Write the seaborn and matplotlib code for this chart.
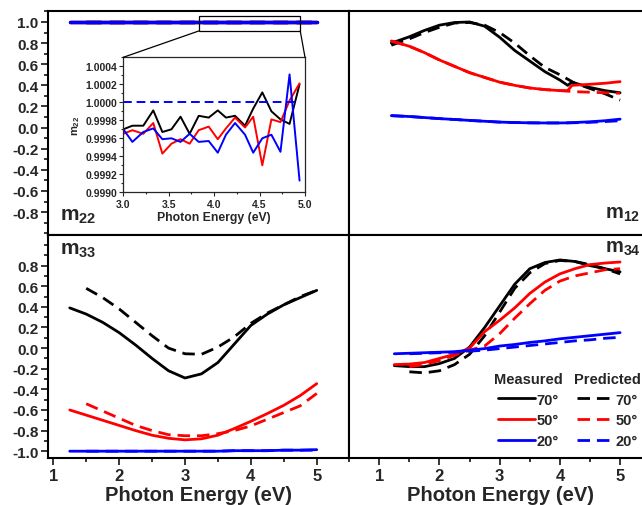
import matplotlib
matplotlib.use("Agg")
import matplotlib.pyplot as plt
import seaborn as sns
import numpy as np
from matplotlib.lines import Line2D
from matplotlib.patches import Rectangle, ConnectionPatch
from matplotlib.ticker import MultipleLocator, FormatStrFormatter, FixedLocator

# ---------------- data ----------------
E_meas = [1.25, 1.5, 1.75, 2.0, 2.25, 2.5, 2.75, 3.0, 3.25, 3.5, 3.75, 4.0, 4.25, 4.5, 4.75, 5.0]
E_pred = [1.5, 1.75, 2.0, 2.25, 2.5, 2.75, 3.0, 3.25, 3.5, 3.75, 4.0, 4.25, 4.5, 4.75, 5.0]

# m22 (main panel, all ~1)
m22_x_meas = [1.25, 3.0, 5.0]
m22_x_pred = [1.5, 3.0, 5.0]
m22_meas = [1.0, 1.0, 1.0]
m22_pred = [1.0, 1.0, 1.0]

# m22 inset
inset_x = [3.00, 3.10, 3.22, 3.33, 3.43, 3.53, 3.63, 3.73, 3.83, 3.94,
           4.04, 4.13, 4.23, 4.34, 4.43, 4.53, 4.63, 4.73, 4.83, 4.94]
inset_70 = [0.99970, 0.99974, 0.99974, 0.99991, 0.99967, 0.99970, 0.99984, 0.99965, 0.99985, 0.99983,
            0.99991, 0.99983, 0.99985, 0.99974, 0.99993, 1.00011, 0.99990, 0.99981, 0.99976, 1.00020]
inset_50 = [0.99965, 0.99969, 0.99965, 0.99977, 0.99943, 0.99954, 0.99959, 0.99954, 0.99969, 0.99973,
            0.99959, 0.99971, 0.99983, 0.99972, 0.99984, 0.99930, 0.99981, 0.99978, 1.00002, 1.00021]
inset_20 = [0.99970, 0.99956, 0.99967, 0.99971, 0.99959, 0.99960, 0.99956, 0.99965, 0.99956, 0.99957,
            0.99944, 0.99964, 0.99977, 0.99964, 0.99944, 0.99960, 0.99964, 0.99945, 1.00031, 0.99913]
inset_pred_x = [3.0, 4.94]
inset_pred = [1.0, 1.0]

# m12
E12_meas = [1.2, 1.5, 1.75, 2.0, 2.25, 2.5, 2.75, 3.0, 3.25, 3.5, 3.75, 4.0, 4.13, 4.2, 4.5, 4.75, 5.0]
E12_pred = [1.2, 1.5, 1.75, 2.0, 2.25, 2.5, 2.75, 3.0, 3.25, 3.5, 3.75, 4.0, 4.25, 4.5, 4.75, 5.0]
m12_70_meas = [0.80, 0.86, 0.92, 0.97, 0.995, 1.0, 0.96, 0.855, 0.73, 0.63, 0.53, 0.45, 0.40, 0.43, 0.38, 0.35, 0.33]
m12_50_meas = [0.82, 0.77, 0.71, 0.64, 0.58, 0.52, 0.475, 0.43, 0.40, 0.375, 0.36, 0.35, 0.35, 0.40, 0.41, 0.42, 0.435]
m12_20_meas = [0.113, 0.105, 0.095, 0.085, 0.077, 0.068, 0.06, 0.052, 0.048, 0.045, 0.044, 0.044, 0.045, 0.047, 0.055, 0.065, 0.08]
m12_70_pred = [0.78, 0.84, 0.90, 0.95, 0.99, 0.995, 0.97, 0.90, 0.80, 0.68, 0.57, 0.50, 0.42, 0.37, 0.32, 0.26]
m12_50_pred = [0.82, 0.77, 0.71, 0.64, 0.58, 0.52, 0.475, 0.43, 0.40, 0.375, 0.36, 0.35, 0.34, 0.335, 0.33, 0.325]
m12_20_pred = [0.113, 0.105, 0.095, 0.085, 0.077, 0.068, 0.06, 0.052, 0.048, 0.045, 0.044, 0.044, 0.046, 0.05, 0.057, 0.065]

# m33
m33_70_meas = [0.39, 0.33, 0.25, 0.15, 0.03, -0.10, -0.22, -0.29, -0.25, -0.14, 0.04, 0.22, 0.33, 0.42, 0.49, 0.56]
m33_50_meas = [-0.60, -0.65, -0.70, -0.75, -0.80, -0.845, -0.875, -0.89, -0.88, -0.845, -0.78, -0.71, -0.635, -0.555, -0.46, -0.345]
m33_20_meas = [-1.0, -1.0, -1.0, -1.0, -1.0, -1.0, -1.0, -1.0, -1.0, -1.0, -0.995, -0.995, -0.995, -0.99, -0.99, -0.985]
m33_70_pred = [0.58, 0.49, 0.38, 0.25, 0.12, 0.0, -0.055, -0.06, 0.01, 0.11, 0.24, 0.34, 0.42, 0.50, 0.56]
m33_50_pred = [-0.54, -0.61, -0.68, -0.75, -0.80, -0.84, -0.85, -0.85, -0.83, -0.80, -0.755, -0.69, -0.625, -0.56, -0.44]
m33_20_pred = [-1.0, -1.0, -1.0, -1.0, -1.0, -1.0, -1.0, -1.0, -1.0, -0.995, -0.995, -0.995, -0.99, -0.99, -0.99]

# m34
m34_70_meas = [-0.17, -0.18, -0.18, -0.15, -0.10, 0.01, 0.20, 0.41, 0.62, 0.77, 0.83, 0.855, 0.84, 0.80, 0.77, 0.74]
m34_50_meas = [-0.16, -0.155, -0.14, -0.10, -0.06, 0.0, 0.16, 0.27, 0.39, 0.53, 0.64, 0.72, 0.77, 0.81, 0.825, 0.835]
m34_20_meas = [-0.055, -0.05, -0.045, -0.04, -0.035, -0.02, -0.005, 0.02, 0.035, 0.055, 0.07, 0.09, 0.105, 0.12, 0.135, 0.15]
m34_70_pred = [-0.23, -0.24, -0.22, -0.16, -0.06, 0.12, 0.35, 0.58, 0.73, 0.82, 0.85, 0.84, 0.81, 0.77, 0.72]
m34_50_pred = [-0.18, -0.16, -0.12, -0.07, -0.02, 0.02, 0.14, 0.29, 0.43, 0.56, 0.65, 0.70, 0.73, 0.76, 0.77]
m34_20_pred = [-0.055, -0.05, -0.045, -0.04, -0.03, -0.02, -0.005, 0.01, 0.025, 0.04, 0.055, 0.07, 0.08, 0.095, 0.105]

angles = ["70°", "50°", "20°"]
colors = ["#000000", "#ff0000", "#0000ff"]

# ---------------- style ----------------
sns.set_style("ticks")
plt.rcParams["font.family"] = ["Liberation Sans", "DejaVu Sans"]
plt.rcParams["font.weight"] = "bold"
plt.rcParams["mathtext.fontset"] = "custom"
plt.rcParams["mathtext.rm"] = "Liberation Sans:bold"
plt.rcParams["mathtext.bf"] = "Liberation Sans:bold"
plt.rcParams["mathtext.it"] = "Liberation Sans:bold"

W, H = 642, 506
fig = plt.figure(figsize=(W / 100, H / 100), dpi=100)


def rect(x0, y0, x1, y1):
    return [x0 / W, 1 - y1 / H, (x1 - x0) / W, (y1 - y0) / H]


ax_tl = fig.add_axes(rect(48, 12, 349, 236))
ax_tr = fig.add_axes(rect(349, 12, 652, 236))
ax_bl = fig.add_axes(rect(48, 236, 349, 459))
ax_br = fig.add_axes(rect(349, 236, 652, 459))

LW = 2.0
DASH = (0, (4.5, 2.5))

for ax in (ax_tl, ax_tr, ax_bl, ax_br):
    for s in ax.spines.values():
        s.set_linewidth(1.5)
        s.set_color("black")
    ax.set_facecolor("white")

# x limits
for ax in (ax_tl, ax_bl):
    ax.set_xlim(0.92, 5.49)
for ax in (ax_tr, ax_br):
    ax.set_xlim(0.497, 5.53)
for ax in (ax_tl, ax_tr):
    ax.set_ylim(-1.017, 1.104)
for ax in (ax_bl, ax_br):
    ax.set_ylim(-1.066, 1.097)


def draw(ax, x, y, c, dashed=False, lw=LW):
    sns.lineplot(x=x, y=y, ax=ax, color=c, lw=lw,
                 linestyle=DASH if dashed else "-", sort=False, estimator=None)


# m22 main
for c in colors:
    draw(ax_tl, m22_x_meas, m22_meas, c, lw=2.4)
    draw(ax_tl, m22_x_pred, m22_pred, c, dashed=True, lw=2.4)

# m12
for c, ym, yp in zip(colors, [m12_70_meas, m12_50_meas, m12_20_meas], [m12_70_pred, m12_50_pred, m12_20_pred]):
    draw(ax_tr, E12_pred, yp, c, dashed=True)
    draw(ax_tr, E12_meas, ym, c)

# m33
for c, ym, yp in zip(colors, [m33_70_meas, m33_50_meas, m33_20_meas], [m33_70_pred, m33_50_pred, m33_20_pred]):
    draw(ax_bl, E_meas, ym, c)
    draw(ax_bl, E_pred, yp, c, dashed=True)

# m34
for c, ym, yp in zip(colors, [m34_70_meas, m34_50_meas, m34_20_meas], [m34_70_pred, m34_50_pred, m34_20_pred]):
    draw(ax_br, E_meas, ym, c)
    draw(ax_br, E_pred, yp, c, dashed=True)

# ticks
for ax in (ax_tl, ax_tr, ax_bl, ax_br):
    ax.set_xlabel("")
    ax.set_ylabel("")
    ax.tick_params(which="both", direction="out", width=1.3, top=False, right=False)
    ax.tick_params(which="major", length=5)
    ax.tick_params(which="minor", length=3)

ax_tl.yaxis.set_major_locator(FixedLocator([1.0, 0.8, 0.6, 0.4, 0.2, 0.0, -0.2, -0.4, -0.6, -0.8]))
ax_tl.yaxis.set_minor_locator(MultipleLocator(0.1))
ax_bl.yaxis.set_major_locator(FixedLocator([0.8, 0.6, 0.4, 0.2, 0.0, -0.2, -0.4, -0.6, -0.8, -1.0]))
ax_bl.yaxis.set_minor_locator(MultipleLocator(0.1))
for ax in (ax_tl, ax_bl):
    ax.yaxis.set_major_formatter(FormatStrFormatter("%.1f"))
    ax.tick_params(axis="y", labelsize=11, pad=2)
    for t in ax.get_yticklabels():
        t.set_fontweight("bold")

for ax in (ax_tr, ax_br):
    ax.tick_params(axis="y", which="both", left=False, labelleft=False)
for ax in (ax_tl, ax_tr):
    ax.tick_params(axis="x", which="both", bottom=False, labelbottom=False)

for ax in (ax_bl, ax_br):
    ax.xaxis.set_major_locator(FixedLocator([1, 2, 3, 4, 5]))
    ax.xaxis.set_major_formatter(FormatStrFormatter("%d"))
    ax.xaxis.set_minor_locator(MultipleLocator(0.5))
    ax.tick_params(axis="x", labelsize=12, pad=2)
    ax.set_xlabel("Photon Energy (eV)", fontsize=14.5, fontweight="bold", labelpad=2)


# panel labels
def panel_label(px, py, txt, size=15):
    fig.text(px / W, 1 - py / H, txt, fontsize=size, fontweight="bold", ha="left", va="baseline")


panel_label(60, 221, r"$\mathregular{m_{22}}$")
panel_label(605, 219, r"$\mathregular{m_{12}}$", 14.5)
panel_label(60, 255, r"$\mathregular{m_{33}}$")
panel_label(605, 253, r"$\mathregular{m_{34}}$", 14.5)

# legends
meas_handles = [Line2D([], [], color=c, lw=LW) for c in colors]
pred_handles = [Line2D([], [], color=c, lw=LW, linestyle=DASH) for c in colors]
leg_kw = dict(frameon=False, fontsize=10.5, handlelength=2.5, handletextpad=0.1,
              labelspacing=0.45, borderpad=0, borderaxespad=0, loc="upper left",
              bbox_transform=fig.transFigure, title_fontproperties={"weight": "bold", "size": 10.5})
leg1 = ax_br.legend(meas_handles, angles, title="Measured",
                    bbox_to_anchor=(494 / W, 1 - 373 / H), **leg_kw)
ax_br.add_artist(leg1)
leg2 = ax_br.legend(pred_handles, angles, title="Predicted",
                    bbox_to_anchor=(574 / W, 1 - 373 / H), **leg_kw)
for lg in (leg1, leg2):
    for t in lg.get_texts():
        t.set_fontweight("bold")

# inset
ax_in = fig.add_axes(rect(123.3, 58.3, 305, 193.3))
for c, yy in zip(colors, [inset_70, inset_50, inset_20]):
    draw(ax_in, inset_x, yy, c, lw=1.4)
draw(ax_in, inset_pred_x, inset_pred, colors[2], dashed=True, lw=1.4)
ax_in.set_xlim(3.0, 5.0)
ax_in.set_ylim(0.9990, 1.0005)
ax_in.xaxis.set_major_locator(FixedLocator([3.0, 3.5, 4.0, 4.5, 5.0]))
ax_in.xaxis.set_minor_locator(MultipleLocator(0.25))
ax_in.xaxis.set_major_formatter(FormatStrFormatter("%.1f"))
ax_in.yaxis.set_major_locator(FixedLocator([0.9990, 0.9992, 0.9994, 0.9996, 0.9998, 1.0000, 1.0002, 1.0004]))
ax_in.yaxis.set_minor_locator(MultipleLocator(0.0001))
ax_in.yaxis.set_major_formatter(FormatStrFormatter("%.4f"))
ax_in.tick_params(which="both", direction="out", labelsize=7.5, width=0.8, pad=1.5)
ax_in.tick_params(which="major", length=3)
ax_in.tick_params(which="minor", length=1.5)
for s in ax_in.spines.values():
    s.set_linewidth(0.9)
for t in ax_in.get_xticklabels() + ax_in.get_yticklabels():
    t.set_fontweight("bold")
ax_in.set_xlabel("Photon Energy (eV)", fontsize=8.8, fontweight="bold", labelpad=2)
ax_in.set_ylabel(r"$\mathregular{m_{22}}$", fontsize=8, fontweight="bold", labelpad=2)

# zoom box and connectors
zx0, zx1, zy0, zy1 = 3.21, 4.75, 0.915, 1.057
ax_tl.add_patch(Rectangle((zx0, zy0), zx1 - zx0, zy1 - zy0, fill=False, lw=0.9, ec="black", zorder=5))
for (xa, xb) in ((zx0, 0.0), (zx1, 1.0)):
    cp = ConnectionPatch(xyA=(xa, zy0), coordsA=ax_tl.transData, xyB=(xb, 1.0), coordsB=ax_in.transAxes,
                         color="black", lw=0.9)
    fig.add_artist(cp)

fig.savefig("out.png", dpi=100)
